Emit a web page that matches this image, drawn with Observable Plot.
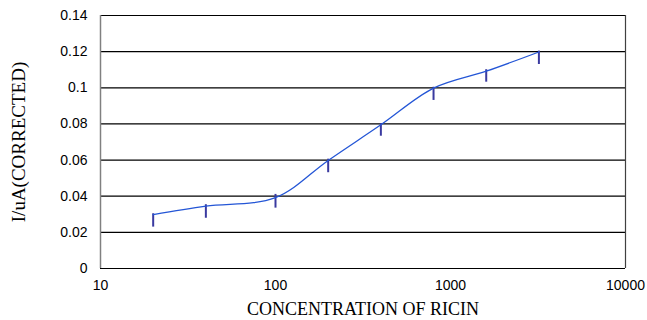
<!DOCTYPE html>
<html>
<head>
<meta charset="utf-8">
<script src="https://cdn.jsdelivr.net/npm/d3@7"></script>
<script src="https://cdn.jsdelivr.net/npm/@observablehq/plot@0.6"></script>
<style>
  html, body { margin: 0; padding: 0; background: #fff; }
</style>
</head>
<body>
<div id="chart"></div>
<script>
const concentrations = [20, 40, 100, 200, 400, 800, 1600, 3200];
const currents = [0.0298, 0.0345, 0.0392, 0.0598, 0.0795, 0.0998, 0.1092, 0.1198];
const errLow = [0.0229, 0.0278, 0.0334, 0.0530, 0.0732, 0.0930, 0.1031, 0.1129];
const errHigh = [0.0303, 0.0353, 0.0410, 0.0605, 0.0802, 0.1003, 0.1100, 0.1203];
const xTicks = [10, 100, 1000, 10000];
const yTicks = [0, 0.02, 0.04, 0.06, 0.08, 0.1, 0.12, 0.14];
const xTitle = "CONCENTRATION OF RICIN";
const yTitle = "I/uA(CORRECTED)";

const data = concentrations.map((c, i) => ({conc: c, cur: currents[i], lo: errLow[i], hi: errHigh[i]}));

const chart = Plot.plot({
  width: 647,
  height: 320,
  marginLeft: 100,
  marginRight: 22,
  marginTop: 15,
  marginBottom: 52,
  style: {fontFamily: "Liberation Sans, Arial, sans-serif", fontSize: "14px", background: "#fff", color: "#000"},
  x: {type: "log", domain: [10, 10000]},
  y: {domain: [0, 0.14]},
  marks: [
    Plot.ruleY(yTicks, {stroke: "#000", strokeWidth: 1.2}),
    Plot.ruleX([10], {stroke: "#808080", strokeWidth: 1.5}),
    Plot.ruleX([10000], {stroke: "#404040", strokeWidth: 1.2}),
    Plot.axisX({ticks: xTicks, tickSize: 0, tickPadding: 12, tickFormat: d => String(d), fontSize: 14, fill: "#000", label: null}),
    Plot.axisY({ticks: yTicks, tickSize: 0, tickPadding: 13, tickFormat: d => String(+d.toFixed(2)), fontSize: 14, fill: "#000", label: null}),
    Plot.ruleX(data, {x: "conc", y1: "lo", y2: "hi", stroke: "#3a3aa0", strokeWidth: 2}),
    Plot.line(data, {x: "conc", y: "cur", curve: "catmull-rom", stroke: "#2456d6", strokeWidth: 1.3}),
    Plot.text([xTitle], {frameAnchor: "bottom", dy: 41, lineAnchor: "middle", textAnchor: "middle", fontFamily: "Liberation Serif, Times New Roman, serif", fontSize: 18, fill: "#000"}),
    Plot.text([yTitle], {frameAnchor: "left", dx: -82, rotate: -90, lineAnchor: "middle", textAnchor: "middle", fontFamily: "Liberation Serif, Times New Roman, serif", fontSize: 19, fill: "#000"})
  ]
});
document.getElementById("chart").appendChild(chart);
</script>
</body>
</html>
